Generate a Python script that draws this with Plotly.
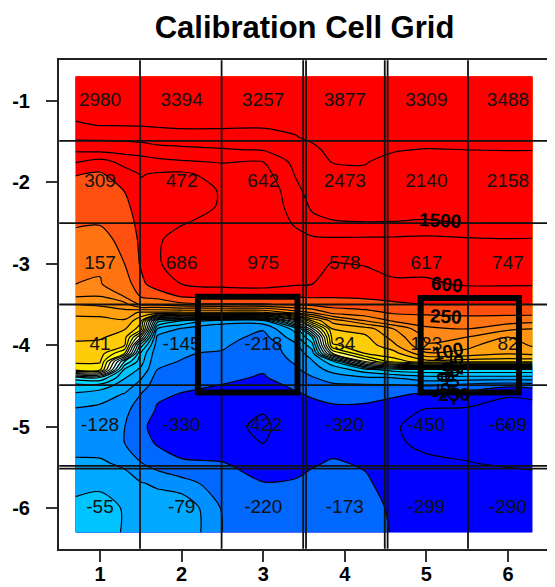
import numpy as np
import plotly.graph_objects as go

title_text = "Calibration Cell Grid"
cell_cols = [1, 2, 3, 4, 5, 6]
cell_rows = [-1, -2, -3, -4, -5, -6]
cell_m1 = [2980, 3394, 3257, 3877, 3309, 3488]
cell_m2 = [309, 472, 642, 2473, 2140, 2158]
cell_m3 = [157, 686, 975, 578, 617, 747]
cell_m4 = [41, -145, -218, 34, 123, 82]
cell_m5 = [-128, -330, -422, -320, -450, -609]
cell_m6 = [-55, -79, -220, -173, -299, -290]

levels = [-800, -600, -400, -250, -150, -100, -75, -50, -30, -20, -10, -5, 0, 5, 10, 15, 25,
          50, 75, 100, 125, 150, 250, 400, 600, 1000, 1500, 2500, 4500]
band_colors = ["#0000FF", "#0000FF", "#0000FF", "#0068FF", "#0090FF", "#00A8FF", "#00C4FF",
               "#00D8FF", "#40E8FF", "#80F4FF", "#C0FFFF", "#E8FFFF", "#FFFFC0", "#FFFF80",
               "#FFFF00", "#FFE800", "#FFCC08", "#FFB010", "#FFA010", "#FF9414", "#FF8818",
               "#FF7410", "#FF5010", "#FF0000", "#FF0000", "#FF0000", "#FF0000", "#FF0000"]

surf_x = [0.7, 1, 1.3, 1.5, 1.7, 2, 2.5, 3, 3.4, 3.6, 3.85, 4.25, 4.6, 5, 5.5, 6, 6.3]
surf_y = [-0.7, -1.0, -1.3, -1.45, -1.6, -1.75, -1.9, -2.1, -2.3, -2.5, -2.7, -3.0, -3.25, -3.4, -3.5,
          -3.6, -3.7, -3.8, -3.9, -4.0, -4.1, -4.2, -4.3, -4.4, -4.5, -4.6, -4.8, -5.0, -5.2, -5.45,
          -5.7, -6.0, -6.3]

col_x070 = [3000, 2980, 2450, 1700, 1100, 620, 410, 340, 300, 265, 225, 185, 150, 127, 100, 80, 68, 60, 52, 48, 38, 29, 20, -25, -60, -78, -108, -125, -115, -97, -83, -68, -58]
col_x100 = [3000, 2980, 2520, 1700, 1150, 520, 380, 305, 285, 258, 220, 157, 149, 125, 105, 80, 70, 62, 54, 41, 36, 28, 18, -22, -62, -88, -115, -128, -118, -97, -85, -55, -60]
col_x130 = [3100, 3100, 2560, 1750, 1200, 720, 520, 405, 360, 320, 290, 250, 190, 155, 115, 90, 72, 52, 36, 27, 10, -20, -55, -73, -88, -103, -140, -149, -150, -108, -90, -79, -78]
col_x150 = [3200, 3200, 2600, 1800, 1250, 800, 620, 560, 500, 470, 440, 420, 360, 260, 170, 70, 30, 20, 0, -25, -55, -65, -80, -97, -120, -150, -190, -225, -210, -148, -98, -82, -80]
col_x170 = [3300, 3300, 2700, 1950, 1350, 880, 580, 540, 520, 560, 590, 590, 510, 300, 170, 70, -25, -75, -110, -125, -135, -145, -150, -190, -215, -235, -265, -310, -265, -195, -108, -85, -82]
col_x200 = [3394, 3394, 2800, 2100, 1380, 950, 560, 480, 530, 595, 660, 686, 600, 420, 220, 70, -50, -108, -130, -145, -147, -152, -180, -210, -235, -255, -300, -330, -300, -240, -130, -79, -78]
col_x250 = [3320, 3320, 2750, 2150, 1460, 1030, 760, 640, 630, 660, 760, 830, 700, 450, 240, 70, -95, -115, -128, -142, -160, -185, -210, -235, -255, -275, -320, -375, -330, -245, -200, -160, -150]
col_x300 = [3257, 3257, 2700, 2150, 1560, 1000, 830, 660, 720, 800, 880, 975, 720, 470, 240, 70, -85, -145, -185, -218, -225, -232, -242, -262, -300, -340, -395, -422, -402, -330, -245, -220, -215]
col_x340 = [3500, 3520, 2650, 2480, 2100, 1800, 1580, 1380, 1200, 1040, 920, 760, 640, 420, 270, 110, 0, -65, -85, -112, -125, -142, -170, -205, -235, -262, -320, -350, -330, -295, -240, -200, -190]
col_x360 = [3600, 3700, 2800, 2650, 2400, 2250, 2100, 1900, 1650, 1350, 930, 720, 600, 430, 290, 125, 25, -2, -30, -60, -88, -105, -122, -160, -205, -240, -295, -320, -310, -265, -220, -185, -178]
col_x385 = [3750, 3800, 3100, 2950, 2750, 2520, 2420, 2200, 1900, 1450, 950, 590, 500, 420, 320, 180, 85, 50, 35, 24, 5, -58, -92, -125, -175, -215, -285, -320, -300, -240, -200, -175, -170]
col_x425 = [3800, 3850, 3200, 3050, 2800, 2530, 2450, 2300, 1950, 1480, 940, 620, 530, 440, 330, 220, 125, 62, 45, 35, 27, 5, -60, -108, -172, -215, -290, -320, -310, -265, -235, -205, -200]
col_x460 = [3500, 3400, 3100, 2900, 2550, 2400, 2300, 2150, 1850, 1480, 930, 680, 580, 470, 370, 270, 165, 100, 85, 70, 40, 20, -40, -100, -165, -235, -330, -390, -385, -345, -310, -280, -265]
col_x500 = [3350, 3309, 3050, 2850, 2480, 2350, 2200, 2100, 1850, 1450, 900, 700, 575, 450, 400, 280, 200, 145, 130, 123, 97, 40, -35, -85, -150, -270, -420, -450, -430, -380, -340, -299, -290]
col_x550 = [3400, 3400, 3050, 2800, 2500, 2330, 2230, 2130, 1850, 1520, 950, 740, 640, 470, 400, 290, 210, 150, 125, 107, 92, 35, -35, -85, -200, -300, -430, -470, -450, -395, -350, -295, -290]
col_x600 = [3488, 3488, 3100, 2800, 2520, 2350, 2230, 2158, 1880, 1500, 980, 747, 640, 480, 400, 290, 200, 130, 100, 82, 78, 35, -35, -85, -240, -370, -560, -609, -520, -420, -340, -290, -285]
col_x630 = [3500, 3500, 3100, 2800, 2520, 2330, 2220, 2150, 1880, 1500, 970, 760, 640, 460, 400, 300, 180, 125, 112, 104, 82, 35, -35, -85, -220, -370, -470, -500, -470, -420, -370, -300, -290]

grid_v = [1.49, 2.49, 3.49, 3.525, 4.49, 4.525, 5.51]
grid_h = [-1.49, -2.5, -3.5, -4.49, -5.482, -5.515]
box_one = [2.2, 3.42, -3.405, -4.58]
box_two = [4.93, 6.135, -3.42, -4.58]

label_text = ["1500", "600", "250", "100", "50", "25", "-50", "-100", "-250"]
label_x = [5.17, 5.25, 5.24, 5.26, 5.25, 5.38, 5.22, 5.32, 5.3]
label_y = [-2.47, -3.26, -3.65, -4.08, -4.33, -4.23, -4.5, -4.5, -4.6]
label_angle = [3, 5, 3, -12, -90, -90, -90, -90, 0]

z = np.array([col_x070, col_x100, col_x130, col_x150, col_x170, col_x200, col_x250, col_x300, col_x340,
              col_x360, col_x385, col_x425, col_x460, col_x500, col_x550, col_x600, col_x630], float).T
u = np.interp(z, levels, np.arange(len(levels)))
n = len(band_colors)
cs = []
for i, c in enumerate(band_colors):
    cs += [[i / n, c], [(i + 1) / n, c]]

fig = go.Figure()
fig.add_trace(go.Contour(x=surf_x, y=surf_y, z=u, zmin=0, zmax=n, colorscale=cs, showscale=False,
                         autocontour=False, hoverinfo="skip",
                         contours=dict(start=1, end=n - 1, size=1, coloring="fill", showlines=True),
                         line=dict(color="#000000", width=1.2, smoothing=0.8)))

cx, cy, ct = [], [], []
for r, vals in zip(cell_rows, [cell_m1, cell_m2, cell_m3, cell_m4, cell_m5, cell_m6]):
    for c, v in zip(cell_cols, vals):
        cx.append(c); cy.append(r); ct.append(str(v))
fig.add_trace(go.Scatter(x=cx, y=cy, text=ct, mode="text", hoverinfo="skip",
                         textfont=dict(family="Liberation Sans", size=19, color="#111111")))

shapes = []
for v in grid_v:
    shapes.append(dict(type="line", x0=v, x1=v, y0=-6.5, y1=-0.5, line=dict(color="#111111", width=1.8)))
for h in grid_h:
    shapes.append(dict(type="line", x0=0.5, x1=6.5, y0=h, y1=h, line=dict(color="#111111", width=1.8)))
for b in (box_one, box_two):
    shapes.append(dict(type="rect", x0=b[0], x1=b[1], y0=b[2], y1=b[3], line=dict(color="#000000", width=6)))

ann = [dict(x=a, y=b, text=t, textangle=g, showarrow=False,
            font=dict(family="Liberation Sans", size=19, color="#000000", weight="bold"))
       for a, b, t, g in zip(label_x, label_y, label_text, label_angle)]

axis = dict(showgrid=False, zeroline=False, ticks="outside", ticklen=11, tickwidth=2, tickcolor="#333333",
            showline=True, linewidth=2, linecolor="#222222", mirror=True, automargin=False,
            tickfont=dict(family="Liberation Sans", size=20, color="#000000", weight="bold"))

fig.update_layout(
    width=547, height=579, autosize=False, paper_bgcolor="white", plot_bgcolor="white",
    margin=dict(l=51, r=6, t=52, b=38), showlegend=False, shapes=shapes, annotations=ann,
    title=dict(text=title_text, x=296.5 / 547, xanchor="center", y=1 - 19 / 579, yanchor="middle",
               font=dict(family="Liberation Sans", size=31, color="#000000", weight="bold")),
    xaxis=dict(axis, range=[0.497, 6.503], tickvals=cell_cols, ticktext=[str(c) for c in cell_cols],
               ticklabelstandoff=-5),
    yaxis=dict(axis, range=[-6.503, -0.497], tickvals=cell_rows, ticktext=[str(r) for r in cell_rows],
               ticklabelstandoff=12),
)
fig.write_html("out.html")
